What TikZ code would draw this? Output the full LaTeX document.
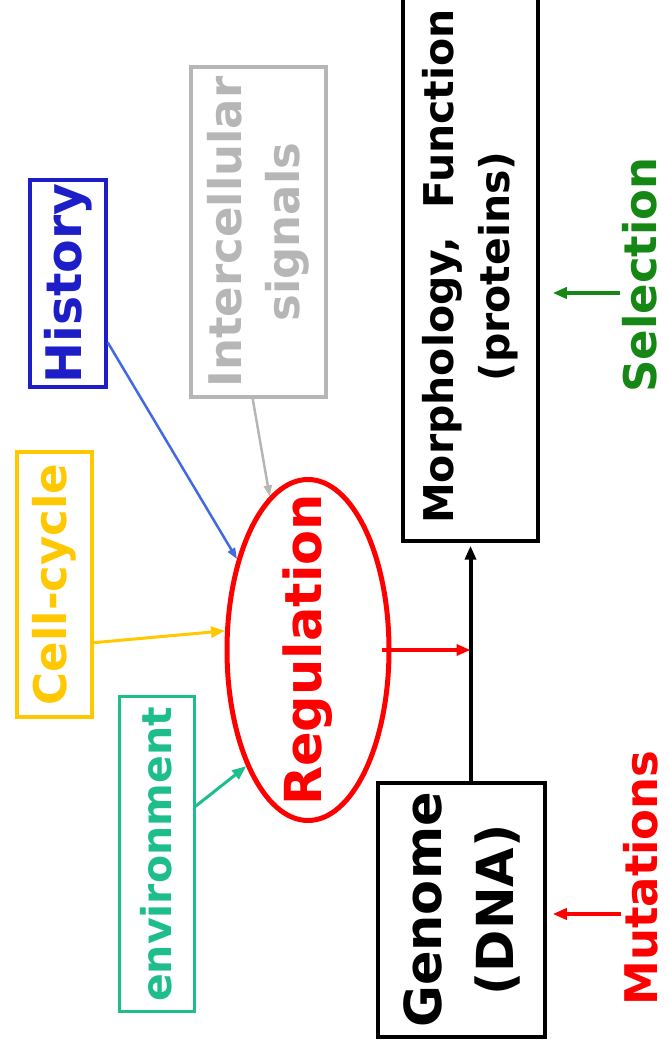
\documentclass[tikz,border=0pt]{standalone}
\usepackage{fontspec}
\setmainfont{DejaVu Sans}
\usetikzlibrary{arrows.meta,shapes.geometric,calc}

\definecolor{histblue}{RGB}{30,30,200}
\definecolor{histarrow}{RGB}{65,105,225}
\definecolor{signalgray}{RGB}{182,182,182}
\definecolor{cyclegold}{RGB}{255,200,0}
\definecolor{envteal}{RGB}{30,190,140}
\definecolor{selgreen}{RGB}{20,135,20}

\begin{document}
\begin{tikzpicture}[x=1pt, y=1pt,
    every node/.style={align=center, inner sep=0pt, rotate=90},
    box/.style={draw, line width=3.5pt},
    big tip/.style={-{Triangle[length=14pt, width=11pt]}},
    small tip/.style={-{Triangle[length=11pt, width=8pt]}}]
    % Define dimensions
    \def\labelfont{\bfseries\fontsize{45}{58}\selectfont}
    \def\bigfont{\bfseries\fontsize{51}{72}\selectfont}

    \useasboundingbox (0,0) rectangle (669,1045);

    %Main boxes
    \node[box, minimum width=549pt, minimum height=135pt, font=\bfseries\fontsize{41}{56}\selectfont]
        (morph) at (470.5,778.5) {Morphology,\ \ Function\\(proteins)};
    \node[box, minimum width=254pt, minimum height=167pt, font=\bigfont]
        (genome) at (461.5,135) {Genome\\(DNA)};

    %Regulation
    \node[draw=red, line width=5pt, ellipse, minimum width=341pt, minimum height=162pt] (reg) at (308,395) {};
    \node[text=red, font=\bigfont] (regtext) at (reg.center) {Regulation};

    %Inputs
    \node[box, draw=histblue, text=histblue, minimum width=207pt, minimum height=76pt,
        font=\bfseries\fontsize{49}{58}\selectfont] (hist) at (68,761.5) {History};
    \node[box, draw=signalgray, text=signalgray, minimum width=330pt, minimum height=135pt, font=\labelfont]
        (inter) at (258.5,813) {Intercellular\\signals};
    \node[box, draw=cyclegold, text=cyclegold, minimum width=265pt, minimum height=75pt, font=\labelfont]
        (cell) at (54.5,460.5) {Cell-cycle};
    \node[box, draw=envteal, text=envteal, line width=3pt, minimum width=315pt, minimum height=75pt,
        font=\bfseries\fontsize{41}{56}\selectfont] (env) at (156.5,190.5) {environment};

    \draw[histarrow, line width=2.5pt, small tip] (hist.214) -- (reg.38);
    \draw[signalgray, line width=2.5pt, small tip] (inter.178) -- (reg.14);
    \draw[cyclegold, line width=3pt, big tip] (cell.214) -- (reg.77);
    \draw[envteal, line width=3pt, big tip] (env.-39) -- (reg.152);

    %Genome to morphology
    \draw[line width=4pt, big tip, shorten >=3pt] (genome.east -| morph.west) -- (morph.west);
    \draw[red, line width=3.5pt, big tip] ($(reg.south)+(-10,0)$) -- (reg.south -| morph.west);

    %Selection and mutations
    \node[text=selgreen, font=\labelfont] (sel) at (640,770) {Selection};
    \node[text=red, font=\labelfont] (mut) at (641,167) {Mutations};
    \path (sel.north) ++(-2,-18) coordinate (S);
    \path (mut.north) ++(-2,-36) coordinate (M);
    \draw[selgreen, line width=3.5pt, big tip, shorten >=13pt] (S) -- (S -| morph.south);
    \draw[red, line width=3.5pt, big tip, shorten >=6pt] (M) -- (M -| genome.south);

\end{tikzpicture}
\end{document}
